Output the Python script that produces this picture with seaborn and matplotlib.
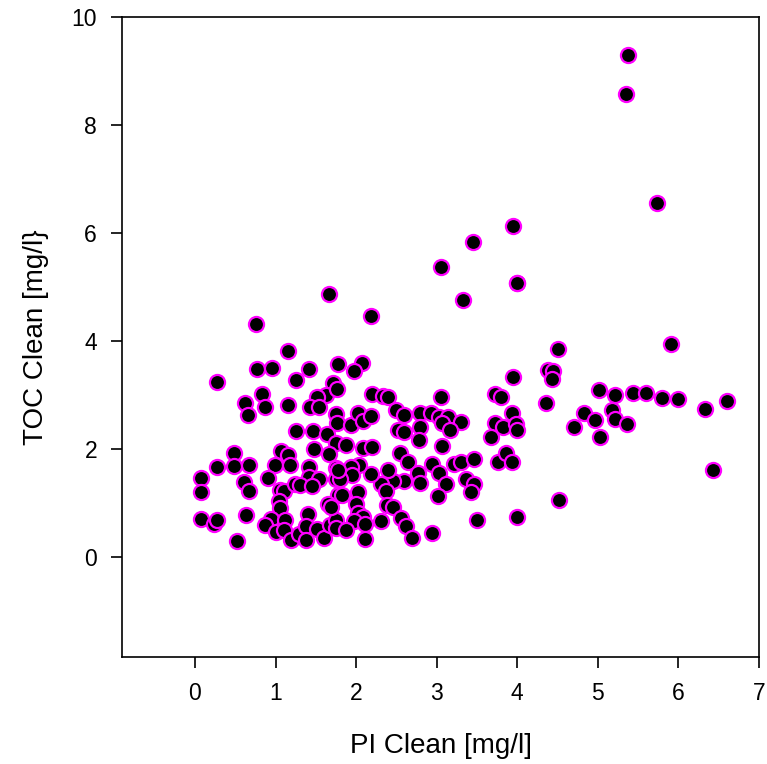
import matplotlib
matplotlib.use("Agg")
import matplotlib.pyplot as plt
import seaborn as sns
import pandas as pd

pi_clean = [
    1.66, 0.76, 1.16, 0.77, 0.96, 1.42, 0.27, 1.25, 1.78, 1.71, 1.63, 1.51, 0.83, 0.62, 0.66,
    0.87, 1.15, 1.43, 1.54, 1.75, 1.76, 1.26, 1.47, 1.64, 1.75, 1.48, 1.66, 0.48, 0.27, 0.49,
    0.67, 1.07, 1.16, 0.99, 1.18, 1.41, 1.75, 0.08, 0.91, 1.41, 1.54, 0.61, 0.67, 0.08, 1.05,
    1.10, 1.24, 1.31, 1.45, 1.75, 1.78, 1.04, 1.05, 1.65, 0.08, 0.24, 0.28, 0.63, 0.94, 0.87,
    1.12, 1.01, 1.11, 1.19, 1.29, 1.40, 1.38, 1.38, 1.51, 1.60, 1.68, 1.75, 1.75, 0.52,
    3.33, 4.00, 2.19, 2.07, 1.98, 3.95, 4.38, 4.36, 1.76, 2.20, 2.33, 2.40, 3.05, 3.73, 3.80,
    1.94, 2.02, 2.09, 2.19, 2.50, 2.60, 2.79, 2.93, 3.03, 3.14, 3.30, 3.06, 3.17, 2.52, 2.60,
    2.79, 2.78, 3.73, 3.67, 3.82, 3.94, 3.98, 4.00, 1.87, 2.09, 2.20, 3.06, 2.54, 2.64, 2.94,
    3.03, 3.11, 3.21, 3.30, 3.46, 3.37, 3.46, 3.43, 3.76, 3.86, 3.94, 3.02, 2.77, 2.79, 2.60,
    2.46, 2.40, 2.31, 2.37, 2.19, 2.04, 1.94, 1.95, 1.80, 1.78, 2.02, 1.83, 2.00, 2.38, 2.46,
    2.02, 2.09, 1.97, 2.11, 2.31, 2.56, 2.62, 2.70, 2.11, 2.94, 3.50, 4.00, 1.69, 1.88,
    5.37, 5.35, 5.73, 3.95, 4.00, 4.51, 5.91, 4.44, 4.43, 5.01, 5.21, 5.44, 5.60, 5.80, 5.99,
    6.33, 6.60, 4.83, 4.70, 4.97, 5.18, 5.21, 5.36, 5.03, 6.43, 4.52, 3.05, 3.45,
]
toc_clean = [
    4.87, 4.31, 3.82, 3.49, 3.51, 3.48, 3.25, 3.27, 3.57, 3.22, 3.00, 2.96, 3.02, 2.86, 2.64,
    2.77, 2.82, 2.77, 2.77, 2.65, 2.49, 2.33, 2.33, 2.28, 2.12, 2.00, 1.91, 1.93, 1.67, 1.69,
    1.70, 1.96, 1.89, 1.70, 1.70, 1.66, 1.65, 1.47, 1.46, 1.49, 1.44, 1.39, 1.23, 1.20, 1.25,
    1.23, 1.35, 1.33, 1.32, 1.44, 1.15, 1.04, 0.90, 0.98, 0.71, 0.62, 0.68, 0.77, 0.71, 0.59,
    0.68, 0.46, 0.50, 0.31, 0.43, 0.80, 0.57, 0.31, 0.52, 0.35, 0.60, 0.69, 0.53, 0.30,
    4.76, 5.07, 4.46, 3.60, 3.44, 3.33, 3.46, 2.86, 3.11, 3.02, 2.98, 2.96, 2.97, 3.02, 2.96,
    2.44, 2.66, 2.52, 2.62, 2.73, 2.63, 2.66, 2.67, 2.60, 2.60, 2.51, 2.48, 2.36, 2.36, 2.32,
    2.40, 2.17, 2.49, 2.22, 2.40, 2.66, 2.46, 2.36, 2.07, 2.02, 2.04, 2.06, 1.92, 1.76, 1.73,
    1.55, 1.36, 1.73, 1.76, 1.81, 1.44, 1.36, 1.21, 1.76, 1.92, 1.76, 1.13, 1.56, 1.38, 1.41,
    1.41, 1.62, 1.35, 1.23, 1.53, 1.70, 1.67, 1.52, 1.44, 1.62, 1.21, 1.15, 0.98, 0.96, 0.93,
    0.81, 0.75, 0.67, 0.61, 0.67, 0.73, 0.58, 0.35, 0.33, 0.45, 0.69, 0.74, 0.93, 0.51,
    9.30, 8.57, 6.55, 6.13, 5.08, 3.85, 3.95, 3.45, 3.29, 3.10, 3.01, 3.03, 3.03, 2.95, 2.92,
    2.75, 2.89, 2.66, 2.40, 2.54, 2.72, 2.55, 2.47, 2.23, 1.61, 1.05, 5.38, 5.84,
]

x_ticks = [0, 1, 2, 3, 4, 5, 6, 7]
y_ticks = [0, 2, 4, 6, 8, 10]
x_label = "PI Clean [mg/l]"
y_label = "TOC Clean [mg/l}"

df = pd.DataFrame({"PI": pi_clean, "TOC": toc_clean})

sns.set_style("ticks")
plt.rcParams["font.family"] = ["Liberation Sans", "DejaVu Sans"]

fig = plt.figure(figsize=(7.67, 7.64), dpi=100)
ax = fig.add_axes([122 / 767, 1 - 657 / 764, (759 - 122) / 767, (657 - 17) / 764])

sns.scatterplot(data=df, x="PI", y="TOC", ax=ax, color="black",
                edgecolor="#ff00ff", linewidth=1.6, s=118, zorder=3)

ax.set_xlim(-0.905, 7.0)
ax.set_ylim(-1.85, 10.0)
ax.set_xticks(x_ticks)
ax.set_yticks(y_ticks)
ax.set_xticklabels([str(t) for t in x_ticks])
ax.set_yticklabels([str(t) for t in y_ticks])
ax.tick_params(axis="both", direction="out", length=8, width=1.2, labelsize=16.5,
               colors="black", labelcolor="black", pad=10)
ax.tick_params(top=False, right=False)
for side in ["left", "bottom", "top", "right"]:
    ax.spines[side].set_visible(True)
    ax.spines[side].set_linewidth(1.2)
    ax.spines[side].set_color("black")

ax.set_xlabel(x_label, fontsize=20, labelpad=20, color="black")
ax.set_ylabel(y_label, fontsize=20, labelpad=16, color="black")

fig.savefig("out.png", dpi=100)
